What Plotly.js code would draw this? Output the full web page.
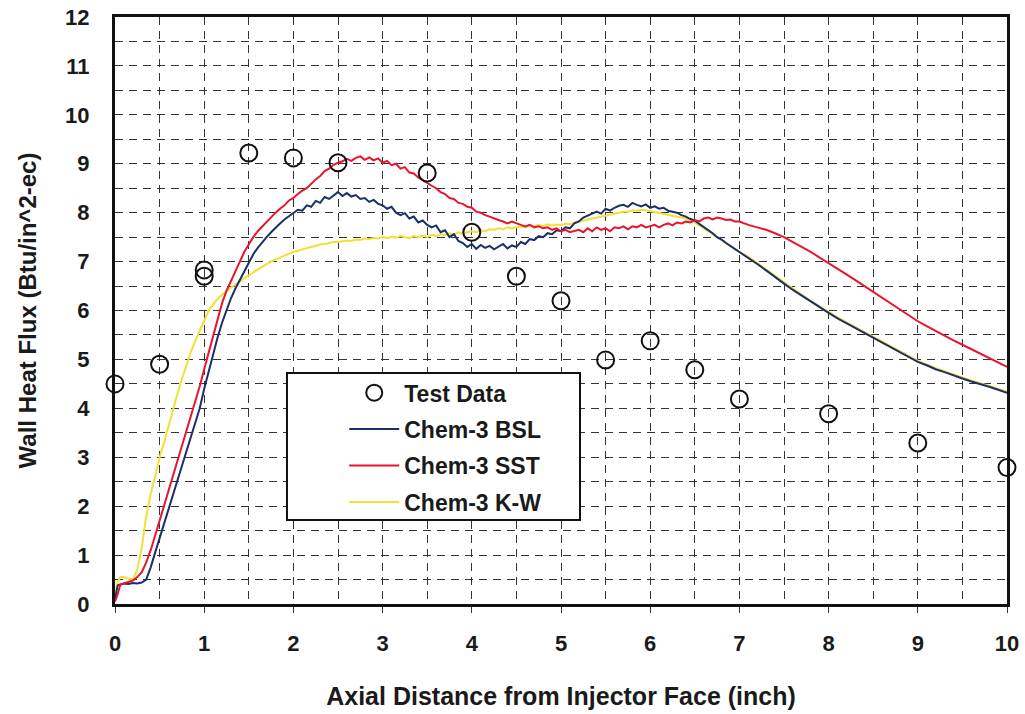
<!DOCTYPE html>
<html>
<head>
<meta charset="utf-8">
<script src="https://cdn.plot.ly/plotly-3.0.1.min.js"></script>
<style>html,body{margin:0;padding:0;background:#fff;}#chart{width:1025px;height:714px;}</style>
</head>
<body>
<div id="chart"></div>
<script>
// Test data
const testX = [0, 0.5, 1, 1, 1.5, 2, 2.5, 3.5, 4, 4.5, 5, 5.5, 6, 6.5, 7, 8, 9, 10];
const testY = [4.5, 4.9, 6.83, 6.7, 9.22, 9.12, 9.02, 8.81, 7.6, 6.7, 6.2, 4.99, 5.38, 4.79, 4.19, 3.89, 3.29, 2.79];

// Axial positions for the simulated curves
const xs = [0,0.03,0.06,
0.1,0.15,0.2,0.25,0.3,0.35,0.4,0.45,0.5,0.55,0.6,0.65,0.7,0.75,0.8,0.85,0.9,0.95,
1.0,1.05,1.1,1.15,1.2,1.25,1.3,1.35,1.4,1.45,1.5,1.55,1.6,1.65,1.7,1.75,1.8,1.85,1.9,1.95,
2.0,2.05,2.1,2.15,2.2,2.25,2.3,2.35,2.4,2.45,2.5,2.55,2.6,2.65,2.7,2.75,2.8,2.85,2.9,2.95,
3.0,3.05,3.1,3.15,3.2,3.25,3.3,3.35,3.4,3.45,3.5,3.55,3.6,3.65,3.7,3.75,3.8,3.85,3.9,3.95,
4.0,4.05,4.1,4.15,4.2,4.25,4.3,4.35,4.4,4.45,4.5,4.55,4.6,4.65,4.7,4.75,4.8,4.85,4.9,4.95,
5.0,5.05,5.1,5.15,5.2,5.25,5.3,5.35,5.4,5.45,5.5,5.55,5.6,5.65,5.7,5.75,5.8,5.85,5.9,5.95,
6.0,6.05,6.1,6.15,6.2,6.25,6.3,6.35,6.4,6.45,6.5,6.55,6.6,6.65,6.7,6.75,6.8,6.85,6.9,6.95,
7.0,7.1,7.2,7.3,7.4,7.5,7.6,7.7,7.8,7.9,8.0,8.1,8.2,8.3,8.4,8.5,8.6,8.7,8.8,8.9,9.0,9.1,9.2,9.3,9.4,9.5,9.6,9.7,9.8,9.9,10.0];

const bslY = [0.1,0.38,0.4,
0.42,0.41,0.43,0.42,0.44,0.5,0.75,1.05,1.35,1.65,1.95,2.25,2.55,2.85,3.12,3.4,3.7,4.0,
4.4,4.75,5.15,5.45,5.75,6.02,6.25,6.45,6.63,6.82,7.0,7.15,7.28,7.4,7.5,7.6,7.7,7.78,7.86,7.93,
8.0,8.06,8.04,8.15,8.12,8.24,8.2,8.32,8.28,8.36,8.42,8.34,8.4,8.33,8.36,8.28,8.3,8.22,8.26,8.18,
8.15,8.08,8.12,8.0,7.95,7.99,7.88,7.92,7.8,7.84,7.75,7.7,7.74,7.6,7.64,7.5,7.56,7.42,7.38,7.3,
7.36,7.26,7.34,7.28,7.32,7.25,7.3,7.36,7.27,7.33,7.3,7.4,7.36,7.46,7.44,7.52,7.5,7.58,7.56,7.64,
7.62,7.7,7.68,7.78,7.82,7.9,7.94,7.98,8.02,7.98,8.08,8.04,8.1,8.14,8.16,8.12,8.2,8.16,8.13,8.17,
8.1,8.13,8.08,8.1,8.04,8.02,8.0,7.95,7.92,7.87,7.84,7.77,7.71,7.65,7.58,7.5,7.45,7.38,7.32,7.25,
7.2,7.08,6.95,6.82,6.68,6.55,6.42,6.3,6.18,6.06,5.95,5.84,5.74,5.64,5.54,5.44,5.34,5.24,5.14,5.04,4.95,4.88,4.8,4.74,4.67,4.61,4.55,4.5,4.44,4.38,4.32];

const sstY = [0.05,0.2,0.4,
0.42,0.45,0.48,0.55,0.65,0.85,1.1,1.4,1.7,2.0,2.3,2.6,2.9,3.2,3.5,3.8,4.1,4.45,
4.8,5.15,5.5,5.85,6.15,6.4,6.6,6.82,7.02,7.2,7.35,7.5,7.62,7.72,7.82,7.92,8.0,8.08,8.15,8.25,
8.3,8.38,8.45,8.5,8.6,8.68,8.75,8.85,8.9,8.98,9.02,9.05,9.1,9.06,9.12,9.15,9.08,9.13,9.07,9.11,
9.02,9.06,8.97,9.0,8.9,8.93,8.82,8.8,8.72,8.66,8.6,8.55,8.5,8.42,8.38,8.3,8.28,8.2,8.18,8.12,
8.1,8.02,8.0,7.95,7.92,7.88,7.85,7.82,7.78,7.82,7.78,7.75,7.72,7.75,7.7,7.72,7.68,7.7,7.65,7.68,
7.62,7.65,7.6,7.62,7.65,7.6,7.68,7.62,7.7,7.65,7.68,7.62,7.7,7.68,7.72,7.66,7.72,7.7,7.75,7.7,
7.72,7.75,7.7,7.75,7.78,7.74,7.8,7.78,7.82,7.8,7.85,7.82,7.88,7.9,7.86,7.9,7.88,7.85,7.86,7.82,
7.82,7.75,7.7,7.65,7.58,7.5,7.4,7.3,7.2,7.08,6.97,6.85,6.74,6.62,6.5,6.38,6.26,6.14,6.02,5.9,5.78,5.68,5.58,5.48,5.39,5.3,5.21,5.12,5.03,4.94,4.85];

const kwY = [0.18,0.45,0.55,
0.55,0.52,0.5,0.7,1.15,1.8,2.25,2.6,3.0,3.3,3.65,4.0,4.3,4.6,4.9,5.15,5.38,5.6,
5.82,6.0,6.12,6.24,6.32,6.4,6.47,6.53,6.6,6.66,6.72,6.78,6.84,6.9,6.95,7.0,7.04,7.08,7.12,7.15,
7.2,7.22,7.25,7.27,7.3,7.32,7.35,7.36,7.38,7.4,7.4,7.42,7.43,7.42,7.45,7.44,7.47,7.46,7.48,7.47,
7.5,7.48,7.5,7.49,7.52,7.5,7.48,7.52,7.5,7.53,7.5,7.55,7.52,7.56,7.54,7.58,7.55,7.6,7.57,7.6,
7.62,7.6,7.64,7.62,7.66,7.65,7.68,7.66,7.7,7.68,7.7,7.72,7.7,7.74,7.72,7.75,7.73,7.76,7.74,7.76,
7.75,7.78,7.76,7.8,7.82,7.84,7.86,7.88,7.9,7.92,7.95,7.96,7.98,8.0,8.02,8.02,8.05,8.04,8.06,8.05,
8.03,8.02,8.0,7.98,7.96,7.94,7.92,7.9,7.88,7.84,7.8,7.74,7.68,7.62,7.56,7.5,7.44,7.38,7.32,7.26,
7.2,7.1,6.97,6.84,6.7,6.57,6.44,6.32,6.2,6.08,5.97,5.86,5.76,5.66,5.56,5.46,5.36,5.26,5.16,5.06,4.97,4.9,4.82,4.76,4.69,4.63,4.57,4.52,4.46,4.4,4.34];

const seriesNames = ['Test Data', 'Chem-3 BSL', 'Chem-3 SST', 'Chem-3 K-W'];
const xTicks = [0,1,2,3,4,5,6,7,8,9,10];
const yTicks = [0,1,2,3,4,5,6,7,8,9,10,11,12];

const FONT = 'Liberation Sans, Arial, sans-serif';
const TXT = '#1a1a1a';

const traces = [
  {x: xs, y: kwY, mode: 'lines', name: seriesNames[3], legendrank: 4, legendgroup: 'g4',
   line: {color: '#f2e034', width: 2}},
  {x: xs, y: bslY, mode: 'lines', name: seriesNames[1], legendrank: 2, legendgroup: 'g2',
   line: {color: '#1c2f68', width: 2}},
  {x: xs, y: sstY, mode: 'lines', name: seriesNames[2], legendrank: 3, legendgroup: 'g3',
   line: {color: '#e8152f', width: 2}},
  {x: testX, y: testY, mode: 'markers', name: seriesNames[0], legendrank: 1, legendgroup: 'g1',
   cliponaxis: false,
   marker: {symbol: 'circle-open', size: 17, color: '#111', line: {width: 2, color: '#111'}}}
];

const gridStyle = {gridcolor: '#333', griddash: '8px,6px', gridwidth: 1};

const layout = {
  width: 1025, height: 714,
  margin: {l: 115, r: 18, t: 17, b: 110},
  paper_bgcolor: '#fff', plot_bgcolor: '#fff',
  showlegend: true,
  font: {family: FONT, color: TXT},
  xaxis: Object.assign({
    range: [0, 10], tickvals: xTicks, ticktext: xTicks.map(String),
    showgrid: true, zeroline: false,
    showline: true, mirror: true, linecolor: '#111', linewidth: 3,
    ticks: 'outside', ticklen: 6, tickcolor: '#333', tickwidth: 1,
    ticklabelstandoff: 12,
    tickfont: {family: FONT, size: 22, weight: 'bold', color: TXT},
    minor: Object.assign({dtick: 0.5, showgrid: true}, gridStyle),
    title: {text: 'Axial Distance from Injector Face (inch)', standoff: 33,
            font: {family: FONT, size: 25, weight: 'bold', color: TXT}}
  }, gridStyle),
  yaxis: Object.assign({
    range: [0, 12], tickvals: yTicks, ticktext: yTicks.map(String),
    showgrid: true, zeroline: false,
    showline: true, mirror: true, linecolor: '#111', linewidth: 3,
    ticks: '', ticklabelstandoff: 18,
    tickfont: {family: FONT, size: 22, weight: 'bold', color: TXT},
    minor: Object.assign({dtick: 0.5, showgrid: true}, gridStyle),
    title: {text: 'Wall Heat Flux (Btu/in^2-ec)', standoff: 22,
            font: {family: FONT, size: 24, weight: 'bold', color: TXT}}
  }, gridStyle),
  shapes: [{
    type: 'rect', xref: 'paper', yref: 'paper', layer: 'above',
    x0: 0.1928, x1: 0.5213, y0: 0.1431, y1: 0.3935,
    line: {color: '#111', width: 2}, fillcolor: '#fff'
  }],
  legend: {
    x: 0.257, y: 0.3965, xanchor: 'left', yanchor: 'top',
    bgcolor: 'rgba(0,0,0,0)', borderwidth: 0,
    itemwidth: 50, tracegroupgap: 3.5, traceorder: 'grouped',
    font: {family: FONT, size: 23, weight: 'bold', color: TXT}
  }
};

Plotly.newPlot('chart', traces, layout, {displayModeBar: false, staticPlot: true});
</script>
</body>
</html>
